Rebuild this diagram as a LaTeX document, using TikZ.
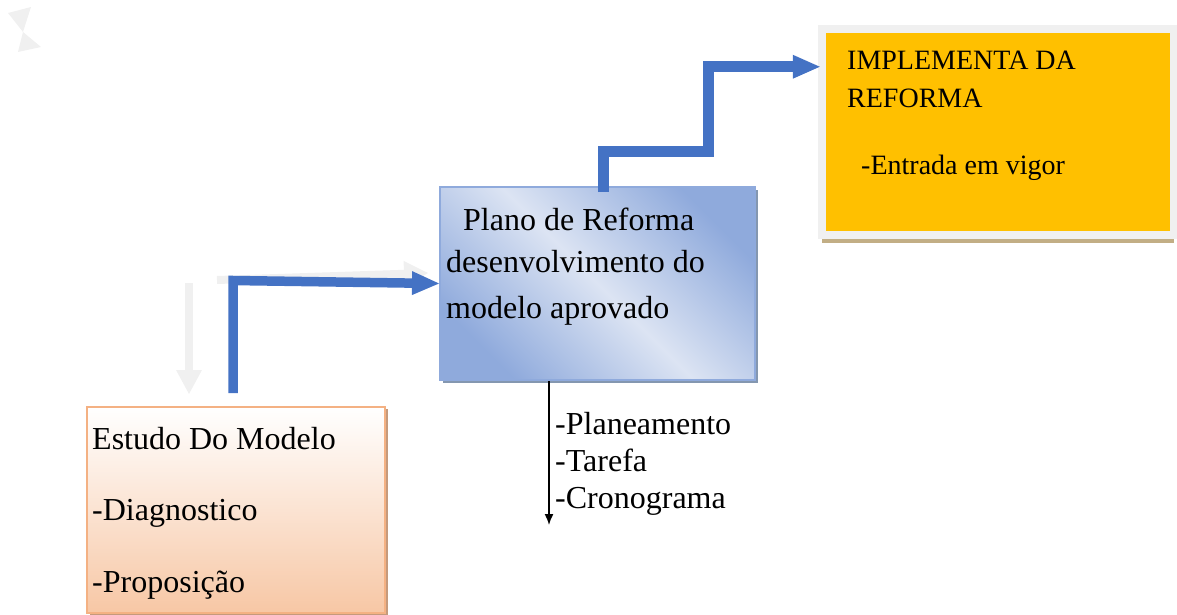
\documentclass[tikz,border=0pt]{standalone}
\usepackage{fontspec}
\setmainfont{Liberation Serif}
\usetikzlibrary{arrows.meta,positioning,calc,shadows}

\definecolor{arrowblue}{HTML}{4472C4}
\definecolor{boxblue}{HTML}{8FAADC}
\definecolor{paleblue}{HTML}{DCE4F3}
\definecolor{shadowblue}{HTML}{8497B0}
\definecolor{peach}{HTML}{F4B183}
\definecolor{peachfill}{HTML}{F7C7A5}
\definecolor{peachshadow}{HTML}{C59A7C}
\definecolor{gold}{HTML}{FFC000}
\definecolor{goldshadow}{HTML}{C2AE85}
\definecolor{ghost}{HTML}{F0F0F0}

\tikzset{
  flow/.style={line width=9.5pt, color=arrowblue, -{Triangle[length=27pt,width=24pt,line width=0pt]}},
  ghostflow/.style={line width=8pt, color=ghost, -{Triangle[length=24pt,width=26pt,line width=0pt]}},
  txt/.style={anchor=base west, inner sep=0pt, font=\fontsize{32}{38}\selectfont},
  smalltxt/.style={txt, font=\fontsize{28}{34}\selectfont},
}

\begin{document}
\begin{tikzpicture}[x=1pt, y=-1pt]
\useasboundingbox (0,0) rectangle (1177,615);
% faint leftovers
\fill[ghost] (8,13) -- (31,7) -- (23,32) -- cycle;
\fill[ghost] (23,32) -- (18,52) -- (41,47) -- cycle;
\draw[ghostflow] (189,283) -- (189,394);
\draw[ghostflow] (217,280) -- (428,273);
% boxes
\node[draw=peach, line width=2pt, top color=white, bottom color=peachfill,
      general shadow={fill=peachshadow, shadow xshift=3pt, shadow yshift=-2pt},
      minimum width=298pt, minimum height=206pt, inner sep=0pt] (estudo) at (236,510) {};
\node[draw=boxblue, line width=2pt, top color=boxblue, bottom color=boxblue, middle color=paleblue, shading angle=-45,
      general shadow={fill=shadowblue, shadow xshift=3pt, shadow yshift=-3pt},
      minimum width=315pt, minimum height=193pt, inner sep=0pt] (plano) at (597.5,283.5) {};
\node[draw=ghost, line width=8pt, fill=gold,
      general shadow={fill=goldshadow, shadow xshift=0pt, shadow yshift=-8pt},
      minimum width=352.5pt, minimum height=205.5pt, inner sep=0pt] (impl) at (998,131.75) {};
% texts
\node[txt] (estudo1) at (92,449) {Estudo Do Modelo};
\node[txt] (estudo2) at (92,520) {-Diagnostico};
\node[txt] (estudo3) at (92,592) {-Proposição};
\node[txt] (plano1) at (463,230) {Plano de Reforma};
\node[txt] (plano2) at (446,272) {desenvolvimento do};
\node[txt] (plano3) at (446,318) {modelo aprovado};
\node[smalltxt] (impl1) at (847,70) {IMPLEMENTA DA};
\node[smalltxt] (impl2) at (847,108) {REFORMA};
\node[smalltxt] (impl3) at (861,174) {-Entrada em vigor};
\node[txt] (tarefa1) at (555,434) {-Planeamento};
\node[txt] (tarefa2) at (555,471) {-Tarefa};
\node[txt] (tarefa3) at (555,508) {-Cronograma};
% connectors
\coordinate (s1) at (233,393);
\coordinate (bend1) at (233,280.5);
\draw[flow] (s1) -- (bend1) -- (plano.west);
\coordinate (s2) at (603,192);
\coordinate (bend2) at (708,151);
\coordinate (t2) at ([xshift=2pt,yshift=65pt]impl.west);
\draw[flow, line width=11pt] (s2) |- (bend2) |- (t2);
\coordinate (listend) at (549,525);
\draw[-{Latex[length=11pt,width=9pt]}, line width=1.5pt] (plano.south -| listend) -- (listend);
\end{tikzpicture}
\end{document}
